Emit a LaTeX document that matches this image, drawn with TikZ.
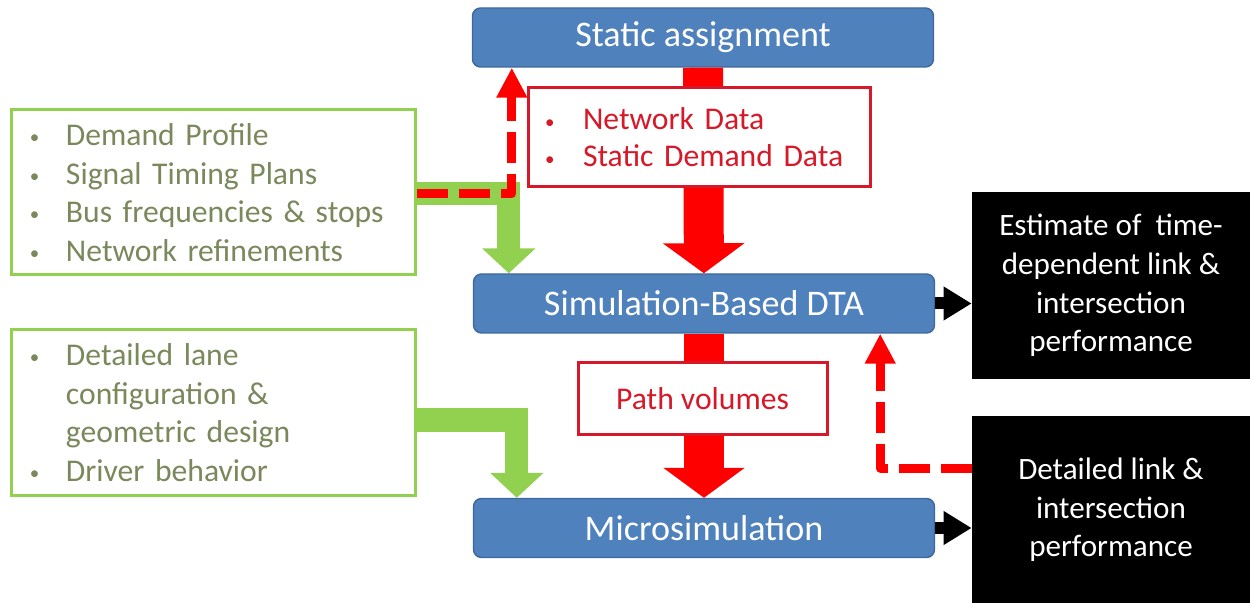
\documentclass[tikz,border=0pt]{standalone}
\usepackage{fontspec}
\usepackage{graphicx}
\setmainfont{Carlito}
\usetikzlibrary{arrows.meta,calc}
\definecolor{boxblue}{RGB}{79,129,189}
\definecolor{boxblueline}{RGB}{62,104,156}
\definecolor{inputgreen}{RGB}{146,208,80}
\definecolor{inputtext}{RGB}{122,136,92}
\definecolor{flowred}{RGB}{255,0,0}
\definecolor{labelred}{RGB}{214,24,40}
\newcommand{\smallbul}{\raisebox{0.12ex}{\scalebox{0.6}{\textbullet}}}
\newcommand{\bul}{\makebox[7.2mm][l]{\smallbul}}
\newcommand{\redbul}{\makebox[7.6mm][l]{\smallbul}}

\begin{document}
\begin{tikzpicture}[x=0.2mm,y=-0.2mm,
  stage/.style={draw=boxblueline,thick,fill=boxblue,rounded corners=1.6mm,text=white,
    font=\fontsize{20.5}{24}\selectfont,minimum width=92.2mm,minimum height=11.8mm,inner sep=0pt},
  inputbox/.style={draw=inputgreen,line width=0.6mm,fill=white,text=inputtext,
    font=\fontsize{18}{22}\selectfont,minimum width=80.6mm,minimum height=33mm,
    text width=73.4mm,align=left,inner xsep=3.6mm},
  databox/.style={draw=labelred,line width=0.6mm,fill=white,text=labelred,
    font=\fontsize{18}{21}\selectfont},
  outbox/.style={fill=black,text=white,font=\fontsize{17.7}{22}\selectfont,
    minimum width=55.6mm,minimum height=37.4mm,align=center,inner sep=0pt},
  bigred/.style={draw=flowred,line width=8mm,-{Triangle[width=16mm,length=6mm]}},
  biggreen/.style={draw=inputgreen,line width=4.6mm,line join=miter,-{Triangle[width=10.4mm,length=5mm]}},
  feedback/.style={draw=flowred,line width=1.8mm,line join=round,dash pattern=on 6.2mm off 2.2mm,
    -{Triangle[width=5.8mm,length=6mm]}},
  result/.style={draw=black,line width=2.4mm,-{Triangle[width=6.4mm,length=5.6mm]}}]
\useasboundingbox (0,0) rectangle (1250,603);

\node [stage] (static) at (703,37.5) {Static assignment};
\node [stage] (dta) at (704,303.5) {Simulation-Based DTA};
\node [stage] (micro) at (704,528) {Microsimulation};

\node [inputbox] (inputs) at (213.5,192.5) {\bul Demand Profile\\ \bul Signal Timing Plans\\
  \bul Bus frequencies \& stops\\ \bul Network refinements};
\node [inputbox] (details) at (213.5,412.5) {\bul Detailed lane\\ \hspace*{7.2mm}configuration \&\\
  \hspace*{7.2mm}geometric design\\ \bul Driver behavior};

\node [outbox] (estimate) at (1111,285.5) {Estimate of\ \ time-\\ dependent link \&\\ intersection\\ performance};
\node [outbox] (detailed) at (1111,510) {Detailed link \&\\ intersection\\ performance};

\draw [bigred] (static) -- (dta);
\draw [bigred] (dta) -- (micro);

\node [databox,minimum width=68.4mm,minimum height=19.8mm,text width=61.6mm,align=left,inner xsep=3.4mm]
  (netdata) at (699,137.5) {\redbul Network Data\\ \redbul Static Demand Data};
\node [databox,minimum width=49.8mm,minimum height=14.2mm] (pathvol) at (702.5,398.5) {Path volumes};

\draw [biggreen] ($(inputs.east)+(0,1.5)$) -| ($(dta.north west)+(36,0)$);
\draw [biggreen] ($(details.east)+(0,7.5)$) -| ($(micro.north west)+(44,0)$);

\draw [feedback] ($(inputs.east)+(0,1.5)$) -| ($(static.south west)+(40,0)$);
\draw [feedback] ($(detailed.west)+(0,-42)$) -| ($(dta.south east)+(-55,0)$);

\draw [result] (dta.east) -- (dta.east -| estimate.west);
\draw [result] (micro.east) -- (micro.east -| detailed.west);
\end{tikzpicture}
\end{document}
